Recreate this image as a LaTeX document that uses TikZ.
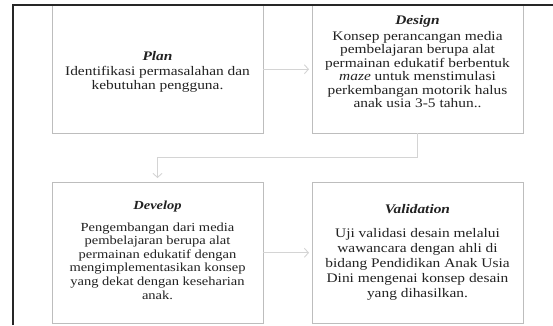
\documentclass[tikz,border=0pt]{standalone}
\usepackage{fontspec}
\setmainfont{Liberation Serif}
\usepackage{graphicx}
\usetikzlibrary{arrows.meta}
\definecolor{boxline}{HTML}{BDBDBD}
\definecolor{conline}{HTML}{D4D4D4}
\definecolor{txtcol}{HTML}{222222}
\newcommand\bxtext[3]{\scalebox{1}[0.85]{\fontsize{#1}{#2}\selectfont\begin{tabular}[t]{@{}c@{}}#3\end{tabular}}}
\begin{document}
\begin{tikzpicture}[x=1pt,y=-1pt,
  stepbox/.style={draw=boxline,line width=0.8pt,fill=white,rectangle,inner sep=0pt,outer sep=0pt,minimum width=211pt},
  txt/.style={inner sep=0pt,outer sep=0pt,text=txtcol,anchor=base},
  con/.style={draw=conline,line width=0.9pt,-{Straight Barb[length=4pt,width=9pt]}},
  frame/.style={draw=black!85,line width=1.6pt}]
\useasboundingbox (0,0) rectangle (553,325);
% boxes
\node[stepbox,minimum height=127.5pt] (plan) at (157.5,69.25) {};
\node[stepbox,minimum height=127.5pt] (design) at (417.5,69.25) {};
\node[stepbox,minimum height=141.5pt] (develop) at (157.5,252.75) {};
\node[stepbox,minimum height=141.5pt] (valid) at (417.5,252.75) {};
% texts
\node[txt] (plant) at (157.5,60) {\bxtext{15.4}{16.5pt}{\textbf{\textit{Plan}}\\[1.2pt] Identifikasi permasalahan dan\\ kebutuhan pengguna.}};
\node[txt] (designt) at (417.5,24) {\bxtext{15.4}{15.9pt}{\textbf{\textit{Design}}\\[3pt] Konsep perancangan media\\ pembelajaran berupa alat\\ permainan edukatif berbentuk\\ \textit{maze} untuk menstimulasi\\ perkembangan motorik halus\\ anak usia 3-5 tahun..}};
\node[txt] (developt) at (157.5,209) {\bxtext{14.5}{16pt}{\textbf{\textit{Develop}}\\[9.9pt] Pengembangan dari media\\ pembelajaran berupa alat\\ permainan edukatif dengan\\ mengimplementasikan konsep\\ yang dekat dengan keseharian\\ anak.}};
\node[txt] (validt) at (417.5,213) {\bxtext{15.4}{17.6pt}{\textbf{\textit{Validation}}\\[11.8pt] Uji validasi desain melalui\\ wawancara dengan ahli di\\ bidang Pendidikan Anak Usia\\ Dini mengenai konsep desain\\ yang dihasilkan.}};
% connectors
\coordinate (c1) at (design.south |- 0,157);
\coordinate (c2) at (develop.north |- 0,157);
\draw[con,shorten >=3pt] (plan.east) -- (design.west);
\draw[con,shorten >=4pt] (design.south) -- (c1) -- (c2) -- (develop.north);
\draw[con,shorten >=3pt] (develop.east) -- (valid.west);
% frame
\draw[frame] (13,325) -- (13,5) -- (553,5);
\end{tikzpicture}
\end{document}
